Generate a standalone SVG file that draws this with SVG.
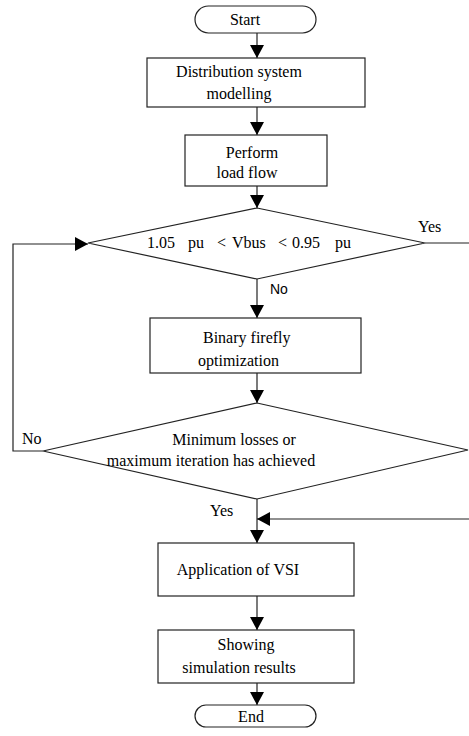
<svg xmlns="http://www.w3.org/2000/svg" width="469" height="736" viewBox="0 0 469 736">
<style>
.box{fill:#fff;stroke:#222;stroke-width:1.2}
.ln{fill:none;stroke:#222;stroke-width:1.2}
.t{font-family:"Liberation Serif","Times New Roman",serif;font-size:16px;fill:#000}
.s{font-family:"Liberation Sans",Arial,sans-serif;font-size:14px;fill:#000}
.m{text-anchor:middle}
</style>
<defs>
<marker id="ah" markerUnits="userSpaceOnUse" markerWidth="14" markerHeight="14" viewBox="0 0 14 14" refX="13" refY="7" orient="auto">
<path d="M0,0 L13,7 L0,14 Z" fill="#000"/>
</marker>
</defs>
<g id="connectors">
<line class="ln" x1="257" y1="33" x2="257" y2="58" marker-end="url(#ah)"/>
<line class="ln" x1="257" y1="107" x2="257" y2="135" marker-end="url(#ah)"/>
<line class="ln" x1="257" y1="186" x2="257" y2="208" marker-end="url(#ah)"/>
<line class="ln" x1="257" y1="279" x2="257" y2="318" marker-end="url(#ah)"/>
<line class="ln" x1="257" y1="373" x2="257" y2="403" marker-end="url(#ah)"/>
<line class="ln" x1="257" y1="499" x2="257" y2="543" marker-end="url(#ah)"/>
<line class="ln" x1="469" y1="519" x2="257" y2="519" marker-end="url(#ah)"/>
<line class="ln" x1="425" y1="243" x2="469" y2="243"/>
<polyline class="ln" points="43,451 13,451 13,244 88,244" marker-end="url(#ah)"/>
<line class="ln" x1="257" y1="596" x2="257" y2="630" marker-end="url(#ah)"/>
<line class="ln" x1="257" y1="683" x2="257" y2="705" marker-end="url(#ah)"/>
<text class="t" x="418" y="232">Yes</text>
<text class="s" x="270" y="294">No</text>
<text class="t" x="22" y="444">No</text>
<text class="t" x="210" y="516">Yes</text>
</g>
<g id="start">
<rect class="box" x="195" y="6" width="121" height="27" rx="13.5"/>
<text class="t m" x="245" y="25">Start</text>
</g>
<g id="modelling">
<rect class="box" x="147" y="58" width="218" height="49"/>
<text class="t m" x="239" y="77">Distribution system</text>
<text class="t m" x="239" y="99">modelling</text>
</g>
<g id="loadflow">
<rect class="box" x="185" y="135" width="142" height="51"/>
<text class="t m" x="252" y="158">Perform</text>
<text class="t m" x="247" y="178">load flow</text>
</g>
<g id="check-voltage">
<polygon class="box" points="257,208 425,243 257,279 88,243"/>
<text class="t" x="147" y="248">1.05</text>
<text class="t" x="188" y="248">pu</text>
<text class="t" x="217" y="248">&lt;</text>
<text class="t" x="232" y="248">Vbus</text>
<text class="t" x="278" y="248">&lt;</text>
<text class="t" x="292" y="248">0.95</text>
<text class="t" x="335" y="248">pu</text>
</g>
<g id="firefly">
<rect class="box" x="150" y="318" width="211" height="55"/>
<text class="t" x="203" y="343">Binary firefly</text>
<text class="t" x="198" y="366">optimization</text>
</g>
<g id="check-converge">
<polygon class="box" points="257,403 468,450 257,499 43,451"/>
<text class="t m" x="234" y="445">Minimum losses or</text>
<text class="t m" x="211" y="466">maximum iteration has achieved</text>
</g>
<g id="vsi">
<rect class="box" x="158" y="543" width="196" height="53"/>
<text class="t m" x="238" y="575">Application of VSI</text>
</g>
<g id="results">
<rect class="box" x="158" y="630" width="196" height="53"/>
<text class="t m" x="246" y="650">Showing</text>
<text class="t m" x="239" y="673">simulation results</text>
</g>
<g id="end">
<rect class="box" x="195" y="705" width="121" height="22" rx="11"/>
<text class="t m" x="251" y="722">End</text>
</g>
</svg>
